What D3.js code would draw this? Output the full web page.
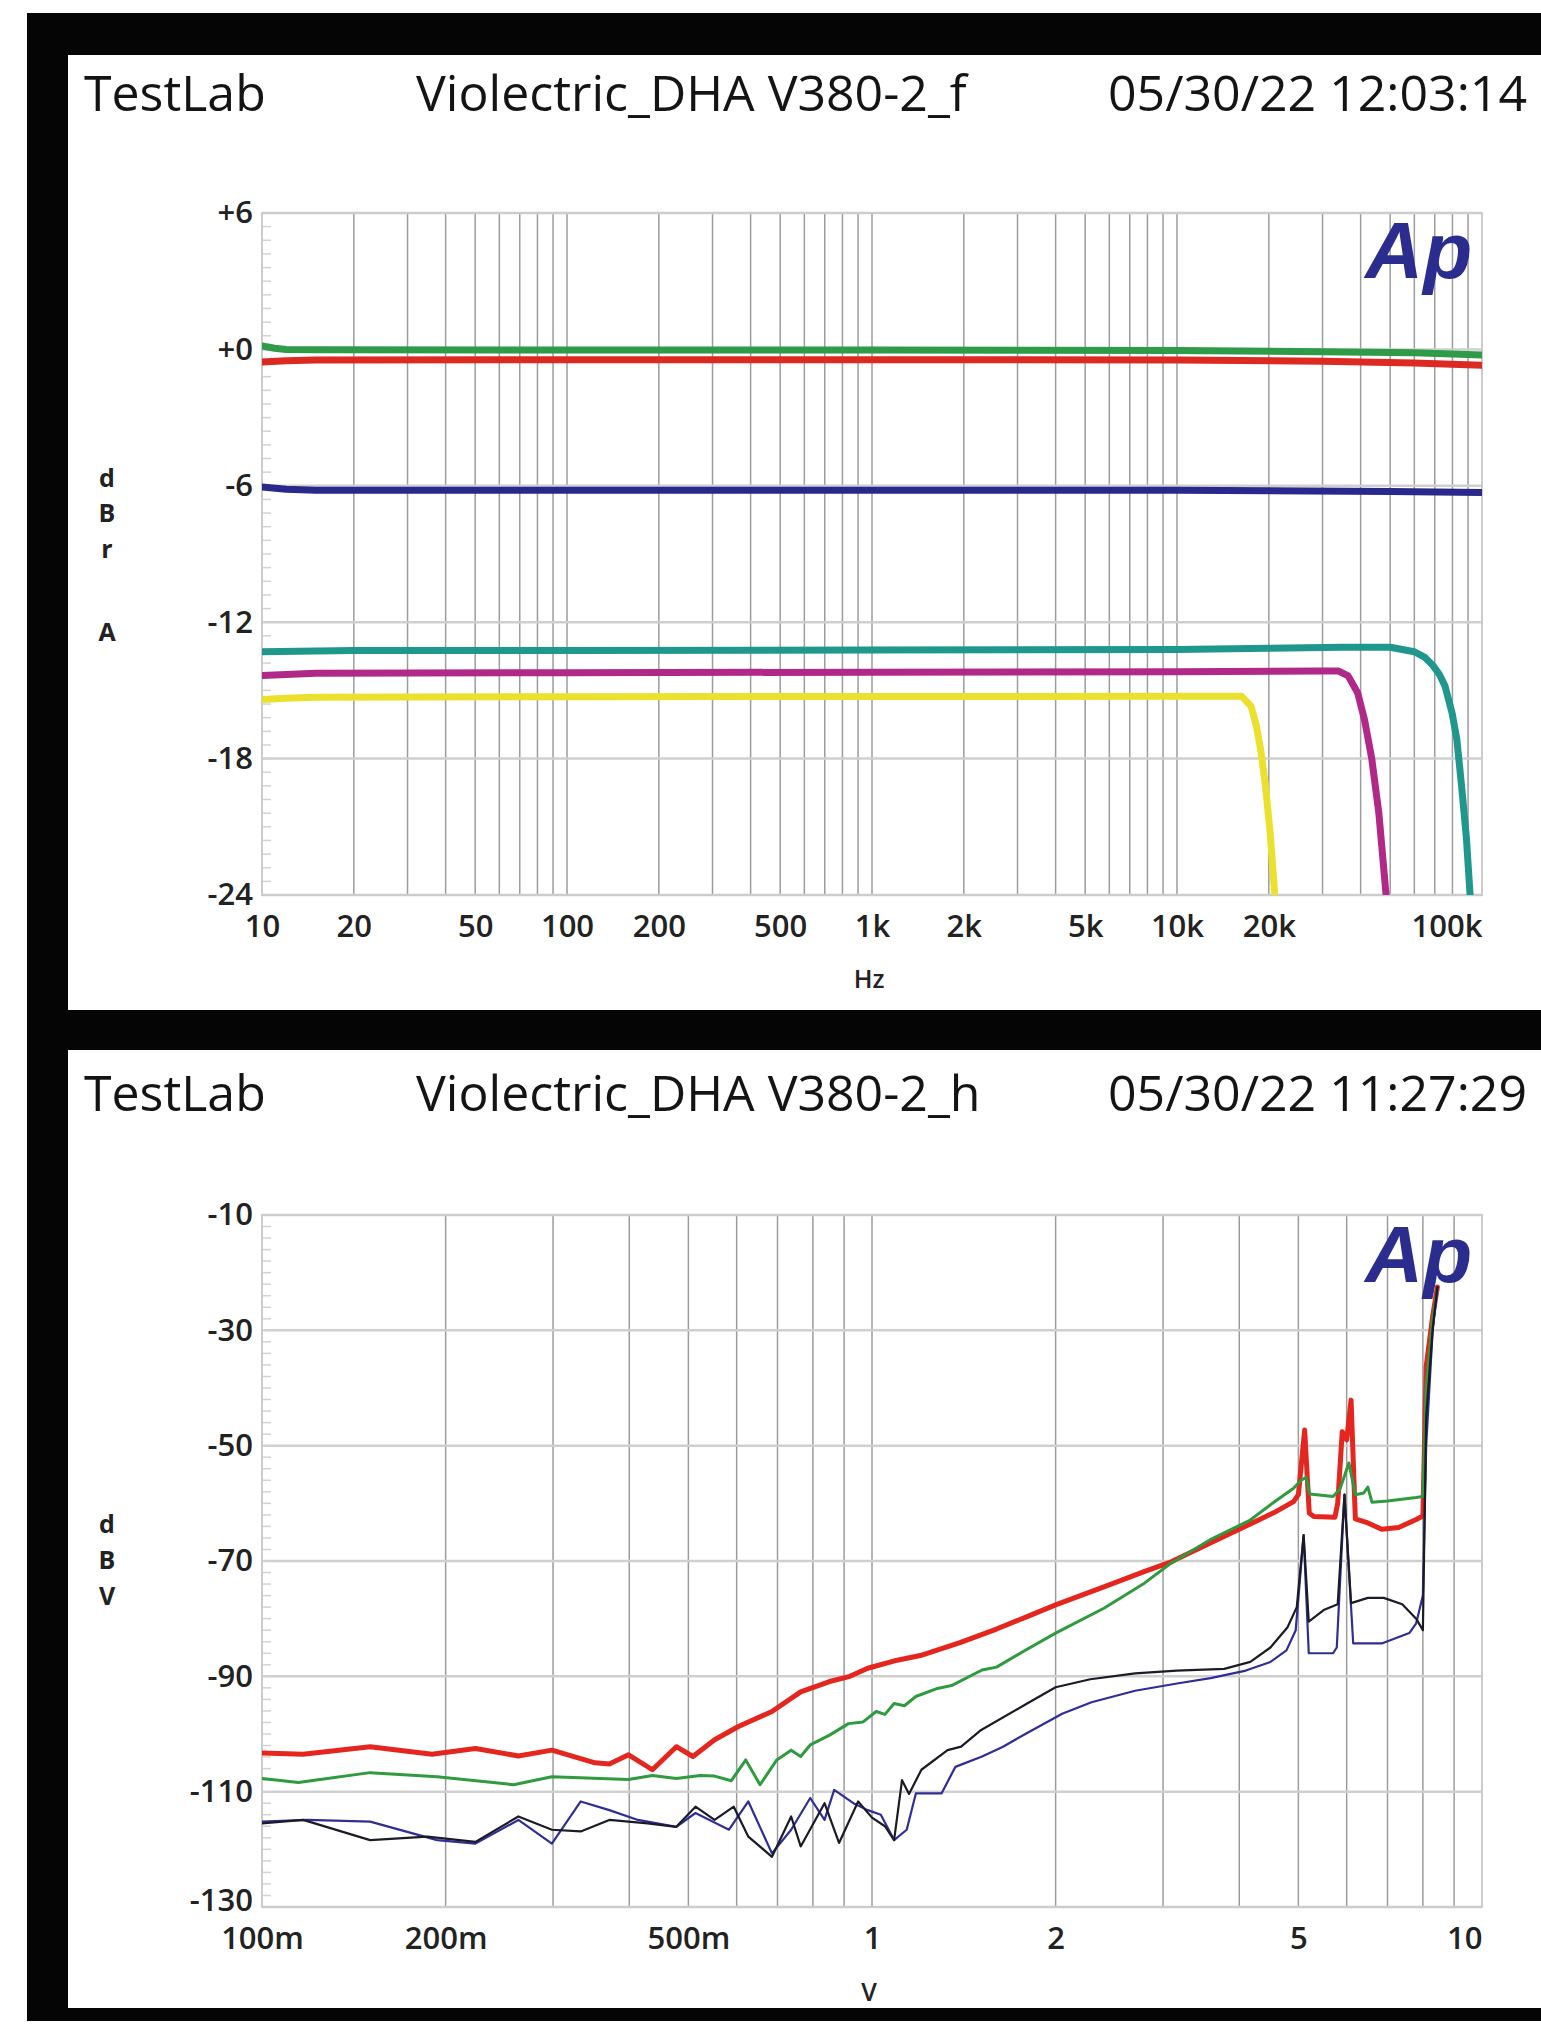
<!DOCTYPE html>
<html lang="en">
<head>
<meta charset="utf-8">
<title>Violectric DHA V380 - AP plots</title>
<style>
html,body{margin:0;padding:0;background:#fff;overflow:hidden;}
svg{display:block;font-family:'Open Sans',sans-serif;}
.hdr{font-size:50px;font-weight:500;fill:#141414;}
.tick text{font-family:'Open Sans',sans-serif;font-size:31px;font-weight:600;fill:#222;}
.ylet{font-size:25px;font-weight:700;fill:#222;text-anchor:middle;}
.axt{font-size:25px;font-weight:600;fill:#222;text-anchor:middle;}
.gx{stroke:#9c9c9c;stroke-width:1.5;}
.gy{stroke:#cfcfcf;stroke-width:2.5;}
.minor{stroke:#d2d2d2;stroke-width:1.5;}
.frame{fill:none;stroke:#cccccc;stroke-width:2;}
.logo{font-family:'Liberation Sans',Arial,sans-serif;font-weight:700;font-style:italic;font-size:80px;fill:#2b2d8e;}
.line{fill:none;stroke-linejoin:round;stroke-linecap:round;}
</style>
</head>
<body>
<svg id="chart" width="1541" height="2026"></svg>
<script src="https://cdn.jsdelivr.net/npm/d3@7"></script>
<script>
/* ---------- 1. frequency response: Hz vs dBrA ---------- */
const freqTicks  = [10,20,50,100,200,500,1000,2000,5000,10000,20000,100000];
const freqLabels = ['10','20','50','100','200','500','1k','2k','5k','10k','20k','100k'];
const dbrTicks   = [6,0,-6,-12,-18,-24];
const dbrLabels  = ['+6','+0','-6','-12','-18','-24'];

const respGreen  = [[10,0.15],[11,0.05],[12,0],[15,-0.02],[100,-0.03],[1000,-0.03],[10000,-0.05],[30000,-0.1],[60000,-0.15],[100000,-0.25]];
const respRed    = [[10,-0.55],[12,-0.5],[15,-0.47],[100,-0.45],[1000,-0.45],[10000,-0.47],[30000,-0.52],[60000,-0.6],[100000,-0.7]];
const respNavy   = [[10,-6.05],[12,-6.15],[15,-6.2],[100,-6.2],[1000,-6.2],[10000,-6.2],[50000,-6.25],[100000,-6.3]];
const respTeal   = [[10,-13.3],[20,-13.25],[100,-13.25],[1000,-13.22],[10000,-13.2],[20000,-13.15],[35000,-13.1],[50000,-13.1],[60000,-13.3],[65000,-13.55],[69000,-13.9],[72500,-14.3],[75600,-14.8],[79800,-16.0],[82700,-17.15],[85700,-19.2],[88900,-21.5],[91400,-24],[93000,-25.5]];
const respPurple = [[10,-14.35],[12,-14.3],[15,-14.25],[100,-14.22],[1000,-14.2],[10000,-14.18],[30000,-14.15],[33900,-14.15],[36400,-14.36],[39100,-15.1],[41200,-16.3],[43500,-18.0],[45900,-20.4],[48400,-23.9],[49500,-25.5]];
const respYellow = [[10,-15.4],[12,-15.35],[15,-15.3],[100,-15.28],[1000,-15.27],[10000,-15.26],[16300,-15.26],[17500,-15.7],[18200,-16.55],[18800,-17.6],[19500,-19.2],[20200,-21.25],[20900,-23.9],[21200,-25.5]];

/* ---------- 2. THD+N vs output level: V vs dBV ---------- */
const voltTicks  = [0.1,0.2,0.5,1,2,5,10];
const voltLabels = ['100m','200m','500m','1','2','5','10'];
const dbvTicks   = [-10,-30,-50,-70,-90,-110,-130];
const dbvLabels  = ['-10','-30','-50','-70','-90','-110','-130'];

const thdRed = [[0.1,-103.3],[0.1168,-103.5],[0.1504,-102.2],[0.19,-103.5],[0.2238,-102.5],[0.2632,-103.8],[0.2987,-102.8],[0.3515,-105.0],[0.371,-105.2],[0.399,-103.6],[0.4365,-106.2],[0.4778,-102.2],[0.5088,-103.9],[0.552,-101.0],[0.604,-98.7],[0.6855,-96.1],[0.764,-92.7],[0.852,-90.9],[0.92,-90.0],[0.984,-88.6],[1.1,-87.2],[1.2,-86.4],[1.39,-84.2],[1.6,-81.8],[1.8,-79.6],[2.0,-77.6],[2.4,-74.5],[2.8,-71.8],[3.07,-70.3],[3.6,-66.8],[4.17,-63.6],[4.6,-61.4],[4.91,-59.7],[5.0,-58.5],[5.12,-47.3],[5.21,-61.7],[5.3,-62.3],[5.74,-62.4],[5.8,-60],[5.9,-47.6],[6.0,-49],[6.1,-42.1],[6.2,-62.7],[6.5,-63.4],[6.85,-64.5],[7.3,-64.2],[7.8,-62.8],[8.0,-62.2],[8.1,-36.3],[8.3,-27.6],[8.45,-22.5]];
const thdGreen = [[0.1,-107.7],[0.1147,-108.4],[0.1504,-106.7],[0.1937,-107.4],[0.2585,-108.8],[0.2987,-107.4],[0.399,-107.9],[0.4365,-107.2],[0.4778,-107.7],[0.5229,-107.2],[0.552,-107.3],[0.588,-108.1],[0.621,-104.5],[0.6553,-108.8],[0.698,-104.5],[0.737,-102.8],[0.764,-103.9],[0.792,-101.9],[0.852,-100.2],[0.915,-98.2],[0.967,-97.9],[1.016,-96.1],[1.05,-96.6],[1.087,-94.7],[1.13,-95.1],[1.18,-93.5],[1.28,-92.1],[1.35,-91.6],[1.515,-88.9],[1.6,-88.4],[1.79,-85.4],[2.0,-82.5],[2.4,-78.2],[2.8,-73.8],[3.07,-70.6],[3.6,-66.2],[4.17,-62.9],[4.6,-59.5],[4.91,-57.4],[5.05,-56],[5.15,-55.5],[5.22,-58.4],[5.7,-58.8],[5.85,-57.5],[6.05,-53],[6.2,-58.5],[6.4,-58.2],[6.5,-57.2],[6.6,-59.8],[7.0,-59.6],[7.8,-59.0],[8.0,-58.8],[8.1,-40],[8.3,-28],[8.45,-23]];
const thdBlack = [[0.1,-115.5],[0.1168,-114.9],[0.1504,-118.4],[0.1867,-117.8],[0.2238,-118.7],[0.2632,-114.3],[0.2987,-116.6],[0.333,-116.9],[0.371,-114.9],[0.4287,-115.5],[0.4778,-116.1],[0.5136,-112.6],[0.552,-114.9],[0.5934,-112.6],[0.627,-117.8],[0.6855,-121.3],[0.737,-114.3],[0.764,-119.5],[0.836,-112.0],[0.883,-118.9],[0.949,-111.7],[1.0,-114.5],[1.05,-116],[1.087,-118.4],[1.12,-108],[1.15,-110.4],[1.205,-106.2],[1.33,-102.8],[1.4,-102.2],[1.51,-99.3],[1.79,-94.8],[2.0,-91.9],[2.28,-90.5],[2.7,-89.5],[3.16,-89.0],[3.78,-88.7],[4.17,-87.5],[4.5,-85],[4.8,-81.5],[4.97,-78],[5.1,-65.5],[5.2,-80.5],[5.5,-78.5],[5.8,-77.5],[5.95,-58.5],[6.1,-77.3],[6.5,-76.4],[6.9,-76.4],[7.4,-77.5],[7.8,-80],[8.0,-82],[8.1,-45],[8.3,-30],[8.45,-22.5]];
const thdBlue = [[0.1,-115.2],[0.1189,-114.9],[0.1504,-115.2],[0.1937,-118.4],[0.2238,-119.0],[0.2632,-114.9],[0.2987,-119.0],[0.333,-111.7],[0.371,-113.2],[0.4134,-114.9],[0.4778,-116.1],[0.5136,-113.7],[0.5829,-116.6],[0.627,-111.7],[0.6855,-120.7],[0.737,-116.6],[0.792,-111.1],[0.836,-114.9],[0.867,-109.7],[0.932,-112.0],[0.984,-113.2],[1.034,-114.0],[1.087,-118.4],[1.14,-116.6],[1.18,-110.3],[1.3,-110.3],[1.37,-105.7],[1.515,-103.9],[1.64,-102.2],[1.79,-99.9],[2.05,-96.5],[2.29,-94.5],[2.7,-92.5],[3.18,-91.2],[3.59,-90.3],[4.1,-89.0],[4.5,-87.5],[4.78,-85.5],[4.95,-82],[5.1,-65.5],[5.2,-86],[5.7,-86],[5.78,-85],[5.95,-58.5],[6.15,-84.3],[6.85,-84.3],[7.6,-82.5],[7.8,-80.8],[8.0,-76],[8.1,-50],[8.3,-30],[8.45,-22.5]];

/* ---------- 3. page frame ---------- */
const svg = d3.select('#chart');
svg.append('rect').attr('x',27).attr('y',13).attr('width',1514).attr('height',2008).attr('fill','#050505');

/* ---------- 4. one AP panel ---------- */
function drawPanel(p){
  const g = svg.append('g');
  g.append('rect').attr('x',68).attr('y',p.top).attr('width',1541-68).attr('height',p.height).attr('fill','#fff');

  // header line
  g.append('text').attr('class','hdr').attr('x',84).attr('y',p.hdrY).text('TestLab');
  g.append('text').attr('class','hdr').attr('x',416).attr('y',p.hdrY).text(p.title);
  g.append('text').attr('class','hdr').attr('x',1527).attr('y',p.hdrY).attr('text-anchor','end').text(p.date);

  const x = d3.scaleLog().domain(p.xDomain).range([262,1482]);
  const y = d3.scaleLinear().domain(p.yDomain).range([p.y0,p.y1]);

  // grid: every 1..9 of each decade
  const gridX = [];
  for(let d=p.xDomain[0]; d<p.xDomain[1]*0.999; d*=10)
    for(let m=1;m<10;m++) gridX.push(d*m);
  g.append('g').selectAll('line').data(gridX.slice(1)).join('line')
    .attr('class','gx').attr('x1',d=>x(d)).attr('x2',d=>x(d)).attr('y1',p.y1).attr('y2',p.y0);
  g.append('g').selectAll('line').data(p.yTicks).join('line')
    .attr('class','gy').attr('x1',262).attr('x2',1482).attr('y1',d=>y(d)).attr('y2',d=>y(d));
  g.append('g').selectAll('line').data(d3.range(p.yDomain[0],p.yDomain[1],p.minorStep)).join('line')
    .attr('class','minor').attr('x1',263).attr('x2',271).attr('y1',d=>y(d)).attr('y2',d=>y(d));
  g.append('rect').attr('class','frame').attr('x',262).attr('y',p.y1).attr('width',1220).attr('height',p.y0-p.y1);

  // logo
  g.append('text').attr('class','logo').attr('x',1472).attr('y',p.logoY).attr('text-anchor','end').text('Ap');

  // axes
  const xAxis = d3.axisBottom(x).tickValues(p.xTicks).tickFormat((d,i)=>p.xLabels[i]).tickSize(0).tickPadding(p.xPad);
  g.append('g').attr('transform',`translate(0,${p.y0})`).call(xAxis)
    .call(a=>a.select('.domain').remove())
    .call(a=>a.selectAll('.tick:last-of-type text').attr('text-anchor','end'));
  const yAxis = d3.axisLeft(y).tickValues(p.yTicks).tickFormat((d,i)=>p.yLabels[i]).tickSize(0).tickPadding(9);
  g.append('g').attr('transform','translate(262,0)').call(yAxis)
    .call(a=>a.select('.domain').remove())
    .call(a=>a.selectAll('.tick:last-of-type text').attr('y',-p.lowLift));  // lowest label lifted a little

  // axis titles
  p.yLetters.forEach(([t,ty])=>g.append('text').attr('class','ylet').attr('x',107).attr('y',ty).text(t));
  g.append('text').attr('class','axt').attr('x',869).attr('y',p.xTitleY).text(p.xTitle);

  // traces
  const clip = 'clip'+p.top;
  g.append('clipPath').attr('id',clip).append('rect')
    .attr('x',262).attr('y',p.y1-40).attr('width',1220).attr('height',p.y0-p.y1+40);
  const line = d3.line().x(d=>x(d[0])).y(d=>y(d[1]));
  g.append('g').attr('clip-path',`url(#${clip})`).selectAll('path').data(p.series).join('path')
    .attr('class','line').attr('d',s=>line(s.data))
    .attr('stroke',s=>s.color).attr('stroke-width',s=>s.width);
}

drawPanel({
  top:55, height:955, hdrY:111, logoY:278,
  title:'Violectric_DHA V380-2_f', date:'05/30/22 12:03:14',
  xDomain:[10,100000], yDomain:[-24,6], y0:895, y1:213,
  xTicks:freqTicks, xLabels:freqLabels, yTicks:dbrTicks, yLabels:dbrLabels,
  minorStep:0.6, xPad:20, lowLift:0,
  yLetters:[['d',487],['B',522],['r',558],['A',641]],
  xTitle:'Hz', xTitleY:988,
  series:[
    {data:respYellow, color:'#ece02e', width:7},
    {data:respPurple, color:'#b02888', width:7},
    {data:respTeal,   color:'#20978c', width:7},
    {data:respNavy,   color:'#28298a', width:7},
    {data:respRed,    color:'#dc2a22', width:7},
    {data:respGreen,  color:'#2f9a47', width:7}
  ]
});

drawPanel({
  top:1050, height:958, hdrY:1111, logoY:1282,
  title:'Violectric_DHA V380-2_h', date:'05/30/22 11:27:29',
  xDomain:[0.1,10], yDomain:[-130,-10], y0:1907, y1:1215,
  xTicks:voltTicks, xLabels:voltLabels, yTicks:dbvTicks, yLabels:dbvLabels,
  minorStep:2, xPad:20, lowLift:6,
  yLetters:[['d',1533],['B',1569],['V',1605]],
  xTitle:'V', xTitleY:2001,
  series:[
    {data:thdRed,   color:'#e4261f', width:5},
    {data:thdGreen, color:'#2f9a3e', width:3},
    {data:thdBlue,  color:'#2e2e96', width:2.2},
    {data:thdBlack, color:'#1b1b26', width:2.2}
  ]
});
</script>
</body>
</html>
